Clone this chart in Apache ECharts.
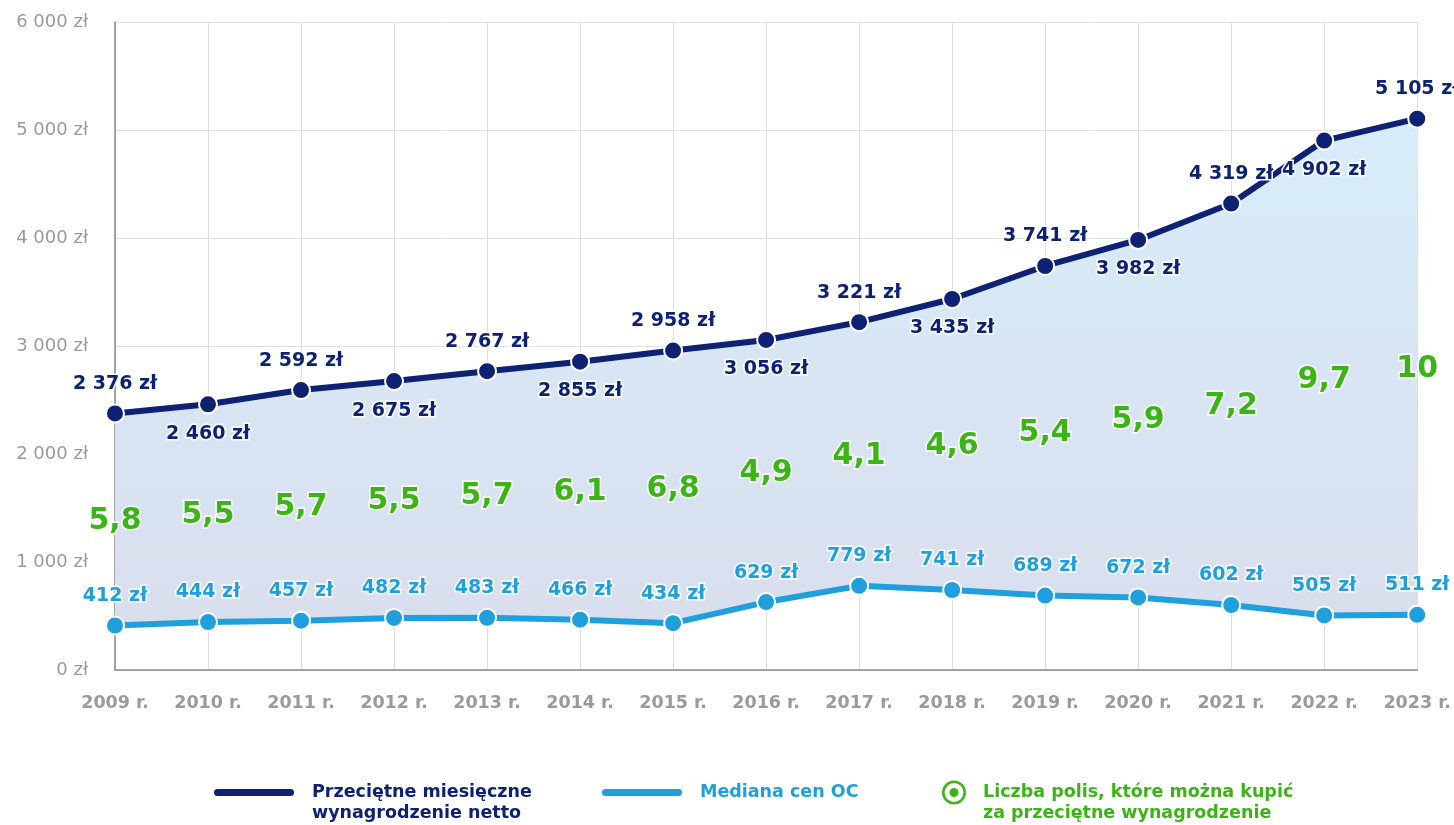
<!DOCTYPE html>
<html>
<head>
<meta charset="utf-8">
<script src="https://cdn.jsdelivr.net/npm/echarts@6/dist/echarts.min.js"></script>
<style>
  html, body { margin: 0; padding: 0; background: #fff; }
  #chart { width: 1454px; height: 825px; }
</style>
</head>
<body>
<div id="chart"></div>
<script>
const years = ['2009 r.', '2010 r.', '2011 r.', '2012 r.', '2013 r.', '2014 r.', '2015 r.', '2016 r.',
  '2017 r.', '2018 r.', '2019 r.', '2020 r.', '2021 r.', '2022 r.', '2023 r.'];
const wage = [2376, 2460, 2592, 2675, 2767, 2855, 2958, 3056, 3221, 3435, 3741, 3982, 4319, 4902, 5105];
const median = [412, 444, 457, 482, 483, 466, 434, 629, 779, 741, 689, 672, 602, 505, 511];
const polisy = [5.8, 5.5, 5.7, 5.5, 5.7, 6.1, 6.8, 4.9, 4.1, 4.6, 5.4, 5.9, 7.2, 9.7, 10];

const NAVY = '#0d2272';
const BLUE = '#1fa0dc';
const GREEN = '#3bb516';
const FONT = 'DejaVu Sans';

const nWage = 'Przeciętne miesięczne\nwynagrodzenie netto';
const nMed = 'Mediana cen OC';
const nPol = 'Liczba polis, które można kupić\nza przeciętne wynagrodzenie';

// "2 376 zł"
const fmt = (v) => String(v).replace(/\B(?=(\d{3})+(?!\d))/g, ' ') + ' zł';

const pill = 'path://M4.5,0 L77.5,0 A4.5,4.5 0 0,1 77.5,9 L4.5,9 A4.5,4.5 0 0,1 4.5,0 Z';
const ring = 'path://M12,0 A12,12 0 1,1 11.99,0 Z M12,2.6 A9.4,9.4 0 1,0 12.01,2.6 Z M12,7.5 A4.5,4.5 0 1,1 11.99,7.5 Z';

// legend text: first line level with the icon, small gap after icon
const legendFmt = (name) => {
  const lines = name.split('\n');
  let out = lines.map((l) => '{g|}{t|' + l + '}');
  if (lines.length > 1) out.unshift('{s|}');
  return out.join('\n');
};
const legendText = (color) => ({
  color: color, fontFamily: FONT, fontWeight: 'bold', fontSize: 17.5, lineHeight: 21,
  rich: {
    g: { width: 12 },
    s: { height: 21, lineHeight: 21 },
    t: { color: color, fontFamily: FONT, fontWeight: 'bold', fontSize: 17.5, lineHeight: 21 }
  }
});

let myChart = echarts.init(document.getElementById('chart'));
myChart.setOption({
  animation: false,
  grid: { left: 115, right: 34, top: 22, bottom: 155 },
  legend: [
    { data: [nWage], left: 212, top: 761, padding: 0, icon: pill, itemWidth: 82, itemHeight: 9,
      formatter: legendFmt, textStyle: legendText(NAVY) },
    { data: [nMed], left: 600, top: 782, padding: 0, icon: pill, itemWidth: 82, itemHeight: 9,
      formatter: legendFmt, textStyle: legendText(BLUE) },
    { data: [nPol], left: 942, top: 761, padding: 0, icon: ring, itemWidth: 24, itemHeight: 24,
      itemStyle: { color: GREEN, opacity: 1 }, formatter: legendFmt, textStyle: legendText(GREEN) }
  ],
  xAxis: {
    type: 'category',
    data: years,
    boundaryGap: false,
    axisLine: { lineStyle: { color: '#8a8a8a', width: 1.5 } },
    axisTick: { show: false },
    splitLine: { show: true, lineStyle: { color: '#dedede', width: 1 } },
    axisLabel: {
      color: '#9a9a9a', fontFamily: FONT, fontWeight: 'bold', fontSize: 17.5, margin: 24
    }
  },
  yAxis: {
    type: 'value',
    min: 0,
    max: 6000,
    interval: 1000,
    axisLine: { show: true, lineStyle: { color: '#8a8a8a', width: 1.5 } },
    axisTick: { show: false },
    splitLine: { lineStyle: { color: '#e2e2e2', width: 1 } },
    axisLabel: {
      color: '#9a9a9a', fontFamily: FONT, fontSize: 18, margin: 27,
      formatter: (v) => fmt(v)
    }
  },
  series: [
    {
      // base of the band, not drawn
      name: 'base',
      type: 'line',
      stack: 'band',
      data: median,
      symbol: 'none',
      silent: true,
      lineStyle: { opacity: 0 },
      z: 1
    },
    {
      name: nWage,
      type: 'line',
      stack: 'band',
      data: wage.map((w, i) => ({
        value: w - median[i],
        label: { position: i % 2 === 0 ? 'top' : 'bottom' }
      })),
      color: NAVY,
      symbol: 'circle',
      symbolSize: 18,
      itemStyle: { color: NAVY, borderColor: '#fff', borderWidth: 2 },
      lineStyle: { color: NAVY, width: 6 },
      areaStyle: {
        opacity: 1,
        color: new echarts.graphic.LinearGradient(0, 0, 0, 1, [
          { offset: 0, color: '#d7edf9' },
          { offset: 1, color: '#d9deed' }
        ])
      },
      label: {
        show: true,
        distance: 10,
        color: NAVY, fontFamily: FONT, fontWeight: 'bold', fontSize: 19,
        textBorderColor: '#fff', textBorderWidth: 3,
        formatter: (p) => fmt(wage[p.dataIndex])
      },
      z: 3
    },
    {
      name: nMed,
      type: 'line',
      data: median,
      color: BLUE,
      symbol: 'circle',
      symbolSize: 18,
      itemStyle: { color: BLUE, borderColor: '#fff', borderWidth: 2 },
      lineStyle: { color: BLUE, width: 6 },
      label: {
        show: true,
        position: 'top',
        distance: 10,
        color: BLUE, fontFamily: FONT, fontWeight: 'bold', fontSize: 19,
        textBorderColor: '#fff', textBorderWidth: 3,
        formatter: (p) => fmt(p.value)
      },
      z: 3
    },
    {
      // polis count, shown half-way between the two lines
      name: nPol,
      type: 'line',
      data: wage.map((w, i) => (w + median[i]) / 2),
      color: GREEN,
      symbol: 'circle',
      symbolSize: 1,
      itemStyle: { color: 'rgba(0,0,0,0)' },
      lineStyle: { width: 0, color: 'rgba(0,0,0,0)' },
      label: {
        show: true,
        position: 'inside',
        offset: [0, 2],
        color: GREEN, fontFamily: FONT, fontWeight: 'bold', fontSize: 30,
        textBorderColor: '#fff', textBorderWidth: 3,
        formatter: (p) => String(polisy[p.dataIndex]).replace('.', ',')
      },
      z: 4
    }
  ]
});
</script>
</body>
</html>
